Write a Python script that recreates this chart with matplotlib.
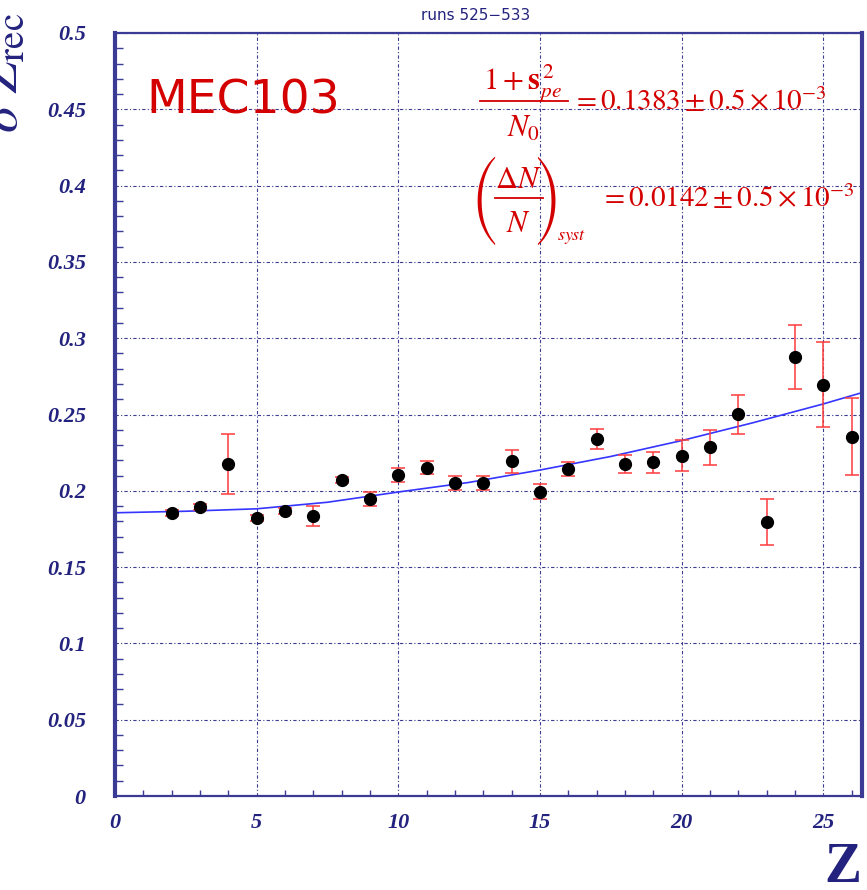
import matplotlib
matplotlib.use('Agg')
import matplotlib.pyplot as plt
from matplotlib.lines import Line2D
from matplotlib.ticker import MultipleLocator, FixedLocator, FixedFormatter

# measured resolution per charge Z
z_vals = [2, 3, 4, 5, 6, 7, 8, 9, 10, 11, 12, 13, 14, 15, 16, 17, 18, 19, 20, 21, 22, 23, 24, 25, 26]
sigma_vals = [0.1856, 0.1895, 0.2174, 0.1823, 0.1866, 0.1835, 0.2069, 0.1944, 0.2104, 0.2152,
              0.2053, 0.2049, 0.2193, 0.1994, 0.2141, 0.2339, 0.2176, 0.2187, 0.2231, 0.2284,
              0.2501, 0.1796, 0.2875, 0.2695, 0.2355]
sigma_errs = [0.002, 0.002, 0.0195, 0.002, 0.002, 0.0068, 0.002, 0.0046, 0.0045, 0.0045,
              0.0046, 0.0046, 0.0075, 0.005, 0.0045, 0.0067, 0.006, 0.0068, 0.010, 0.0112,
              0.013, 0.015, 0.021, 0.0277, 0.025]

# fitted curve, sampled along Z
fit_z = [0, 2.5, 5, 7.5, 10, 12.5, 15, 17.5, 20, 22.5, 25, 26.4]
fit_vals = [0.1856, 0.1866, 0.1882, 0.1925, 0.1992, 0.2055, 0.2136, 0.2225, 0.2329, 0.2445, 0.2569, 0.2645]

x_ticks = [0, 5, 10, 15, 20, 25]
x_labels = ['0', '5', '10', '15', '20', '25']
y_ticks = [0, 0.05, 0.1, 0.15, 0.2, 0.25, 0.3, 0.35, 0.4, 0.45, 0.5]
y_labels = ['0', '0.05', '0.1', '0.15', '0.2', '0.25', '0.3', '0.35', '0.4', '0.45', '0.5']

NAVY = '#23237f'
AXIS = '#3b3b95'
RED = '#d40000'

plt.rcParams['mathtext.fontset'] = 'stix'

W, H = 867, 890
fig = plt.figure(figsize=(W / 100, H / 100), dpi=100)
ax = fig.add_axes([115 / W, 1 - 796 / H, (862 - 115) / W, (796 - 33) / H])


def px(x, y):
    # pixel position from the top-left corner -> figure fraction
    return x / W, 1 - y / H


ax.set_xlim(0, 26.37)
ax.set_ylim(0, 0.5)

ax.xaxis.set_major_locator(FixedLocator(x_ticks))
ax.xaxis.set_major_formatter(FixedFormatter(x_labels))
ax.yaxis.set_major_locator(FixedLocator(y_ticks))
ax.yaxis.set_major_formatter(FixedFormatter(y_labels))
ax.xaxis.set_minor_locator(MultipleLocator(1))
ax.yaxis.set_minor_locator(MultipleLocator(0.01))

ax.grid(True, which='major', color='#3c3c92', linewidth=0.8, linestyle=(0, (3, 2, 1, 2)), zorder=0)
ax.set_axisbelow(True)

ax.tick_params(which='both', direction='in', color=AXIS, top=False, right=False)
ax.tick_params(axis='x', which='major', length=0, pad=12)
ax.tick_params(axis='x', which='minor', length=4, width=1)
ax.tick_params(axis='y', which='major', length=0, pad=21)
ax.tick_params(axis='y', which='minor', length=6, width=1)

for lbl in ax.get_xticklabels() + ax.get_yticklabels():
    lbl.set_fontfamily('Liberation Serif')
    lbl.set_fontstyle('italic')
    lbl.set_fontweight('bold')
    lbl.set_fontsize(16)
    lbl.set_color(NAVY)

for side, lw in (('left', 3), ('right', 3), ('top', 1.6), ('bottom', 1.6)):
    ax.spines[side].set_color(AXIS)
    ax.spines[side].set_linewidth(lw)

ax.plot(fit_z, fit_vals, color='#3535ff', linewidth=1.2, zorder=2)
ax.errorbar(z_vals, sigma_vals, yerr=sigma_errs, fmt='o', color='black', markersize=8.5,
            ecolor='#ff3b3b', elinewidth=1.1, capsize=5, capthick=1.1, zorder=3)

fig.text(*px(146, 113), 'MEC103', color=RED, fontsize=34, fontfamily='DejaVu Sans',
         ha='left', va='baseline')


def red(x, y, s, size=22, ha='left', **kw):
    fig.text(*px(x, y), s, color=RED, fontsize=size, ha=ha, va='baseline', **kw)


def bar(x0, x1, y):
    (fx0, fy), (fx1, _) = px(x0, y), px(x1, y)
    fig.add_artist(Line2D([fx0, fx1], [fy, fy], color=RED, linewidth=1.3,
                          transform=fig.transFigure))


# (1 + s_pe^2) / N0
red(522, 90, r'$1+\mathbf{s}_{pe}^{\,2}$', ha='center')
bar(480, 568, 101)
red(524, 137, r'$N_0$', ha='center')
red(572, 110, r'$=0.1383\pm0.5\times10^{-3}$', size=21)

# (dN / N)_syst
red(484, 231, '(', size=26, ha='center', fontfamily='STIXSizeThreeSym')
red(518, 188, r'$\Delta N$', ha='center')
bar(495, 543, 198)
red(518, 232, r'$N$', ha='center')
red(548, 231, ')', size=26, ha='center', fontfamily='STIXSizeThreeSym')
red(557, 240, r'$syst$', size=13)
red(600, 207, r'$=0.0142\pm0.5\times10^{-3}$', size=21)

fig.text(*px(476, 16), 'runs 525\u2212533', color=NAVY, fontsize=11,
         fontfamily='DejaVu Sans', ha='center', va='center')

fig.text(*px(861, 868), 'Z', color=NAVY, fontsize=40, fontfamily='Liberation Serif',
         fontweight='bold', ha='right', va='center')
fig.text(*px(17, 133), r'$\sigma\ Z_{\rm rec}$', color=NAVY, fontsize=40,
         rotation=90, rotation_mode='anchor', ha='left', va='baseline')

fig.savefig('out.png', dpi=100, facecolor='white')
